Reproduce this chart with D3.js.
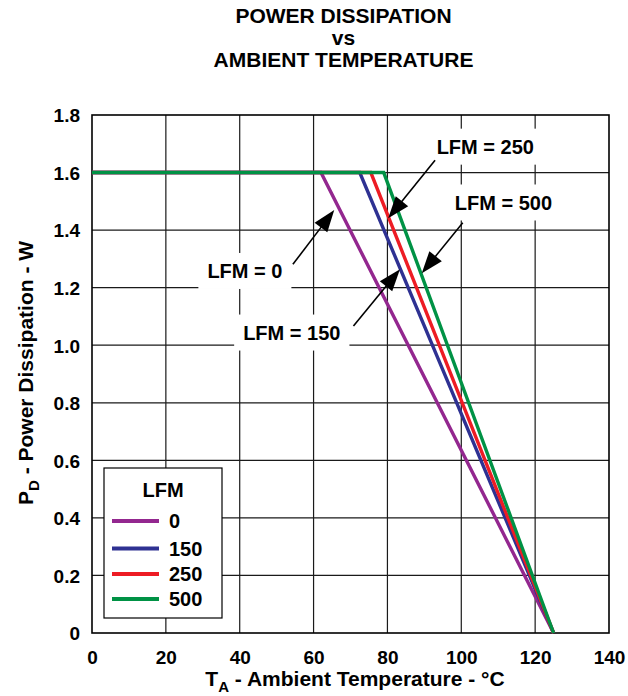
<!DOCTYPE html>
<html>
<head>
<meta charset="utf-8">
<script src="https://cdn.jsdelivr.net/npm/d3@7"></script>
<style>
  html, body { margin: 0; padding: 0; background: #fff; }
  svg { display: block; }
  text { font-family: "Liberation Sans", Arial, Helvetica, sans-serif; font-weight: bold; fill: #000; }
</style>
</head>
<body>
<svg id="chart" width="628" height="696"></svg>
<script>
// ---- data ----
const lfmLabels = ["0", "150", "250", "500"];
const seriesColors = ["#93278F", "#2E3192", "#ED1C24", "#009245"];
const kneeTemp = [62, 72.5, 75.5, 79];      // °C where derating starts
const endTemp = [125, 125, 125, 125];       // °C where PD reaches 0
const maxPower = [1.6, 1.6, 1.6, 1.6];      // W
const xTicks = [0, 20, 40, 60, 80, 100, 120, 140];
const yTicks = [0, 0.2, 0.4, 0.6, 0.8, 1.0, 1.2, 1.4, 1.6, 1.8];
const yTickLabels = ["0", "0.2", "0.4", "0.6", "0.8", "1.0", "1.2", "1.4", "1.6", "1.8"];
const titleLines = ["POWER DISSIPATION", "vs", "AMBIENT TEMPERATURE"];

// callouts: label text, label centre (°C, W), arrow start (°C, W), arrow tip (°C, W)
const calloutText = ["LFM = 0", "LFM = 150", "LFM = 250", "LFM = 500"];
const calloutCenter = [[41.4, 1.258], [54.1, 1.044], [106.5, 1.690], [111.4, 1.496]];
const arrowFrom = [[54.4, 1.281], [70.8, 1.067], [92.9, 1.643], [100.4, 1.426]];
const arrowTo = [[65.6, 1.470], [83.4, 1.264], [80.2, 1.441], [89.3, 1.250]];

// ---- layout ----
const svg = d3.select("#chart");
const L = 92, R = 609, T = 115, B = 633;
const x = d3.scaleLinear().domain([0, 140]).range([L, R]);
const y = d3.scaleLinear().domain([0, 1.8]).range([B, T]);

// title
svg.append("text")
  .attr("x", 343.5).attr("text-anchor", "middle").style("font-size", "21px")
  .selectAll("tspan").data(titleLines).join("tspan")
  .attr("x", 343.5).attr("y", (d, i) => [23, 45, 67][i]).text(d => d);

// grid
const g = svg.append("g");
g.selectAll("line.vg").data(xTicks.slice(1, -1)).join("line")
  .attr("x1", d => x(d)).attr("x2", d => x(d)).attr("y1", T).attr("y2", B)
  .attr("stroke", "#1a1a1a").attr("stroke-width", 1.2);
g.selectAll("line.hg").data(yTicks.slice(1, -1)).join("line")
  .attr("y1", d => y(d)).attr("y2", d => y(d)).attr("x1", L).attr("x2", R)
  .attr("stroke", "#1a1a1a").attr("stroke-width", 1.2);
g.append("rect").attr("x", L).attr("y", T).attr("width", R - L).attr("height", B - T)
  .attr("fill", "none").attr("stroke", "#000").attr("stroke-width", 1.6);

// axes tick labels via d3 axes
const xAxis = svg.append("g").attr("transform", `translate(0,${B})`)
  .call(d3.axisBottom(x).tickValues(xTicks).tickSize(0).tickPadding(0).tickFormat(d3.format("d")));
xAxis.select(".domain").remove();
xAxis.selectAll("text").attr("y", 31).attr("dy", null)
  .style("font-size", "19px").attr("fill", "#000");

const yAxis = svg.append("g").attr("transform", `translate(${L},0)`)
  .call(d3.axisLeft(y).tickValues(yTicks).tickSize(0).tickPadding(0)
    .tickFormat((d, i) => yTickLabels[i]));
yAxis.select(".domain").remove();
yAxis.selectAll("text").attr("x", -12).attr("dy", "0.36em")
  .style("font-size", "19px").attr("fill", "#000");

// axis titles
const xt = svg.append("text").attr("x", 355).attr("y", 686).attr("text-anchor", "middle")
  .style("font-size", "21px");
xt.append("tspan").text("T");
xt.append("tspan").attr("dy", 6).style("font-size", "15px").text("A");
xt.append("tspan").attr("dy", -6).text(" - Ambient Temperature - °C");

const yt = svg.append("text").attr("transform", "translate(33,373) rotate(-90)")
  .attr("text-anchor", "middle").style("font-size", "21px");
yt.append("tspan").text("P");
yt.append("tspan").attr("dy", 6).style("font-size", "15px").text("D");
yt.append("tspan").attr("dy", -6).text(" - Power Dissipation - W");

// curves
const series = lfmLabels.map((lab, i) => ({
  lab, color: seriesColors[i],
  pts: [[0, maxPower[i]], [kneeTemp[i], maxPower[i]], [endTemp[i], 0]]
}));
const line = d3.line().x(d => x(d[0])).y(d => y(d[1]));
svg.append("g").selectAll("path").data(series).join("path")
  .attr("d", d => line(d.pts)).attr("fill", "none")
  .attr("stroke", d => d.color).attr("stroke-width", 3.4)
  .attr("stroke-linejoin", "miter");

// callouts
const cg = svg.append("g");
calloutText.forEach((t, i) => {
  const cx = x(calloutCenter[i][0]), cy = y(calloutCenter[i][1]);
  const grp = cg.append("g");
  const bg = grp.append("rect").attr("fill", "#fff");
  const tx = grp.append("text").attr("x", cx).attr("y", cy).attr("dy", "0.36em")
    .attr("text-anchor", "middle").style("font-size", "20px").text(t);
  const bb = tx.node().getBBox();
  bg.attr("x", bb.x - 9).attr("y", cy - 18).attr("width", bb.width + 18).attr("height", 36);
});

// arrows
arrowFrom.forEach((f, i) => {
  const x1 = x(f[0]), y1 = y(f[1]), x2 = x(arrowTo[i][0]), y2 = y(arrowTo[i][1]);
  const dx = x2 - x1, dy = y2 - y1, len = Math.hypot(dx, dy);
  const ux = dx / len, uy = dy / len;
  const hl = 22, hw = 8;
  const bx = x2 - ux * hl, by = y2 - uy * hl;
  cg.append("line").attr("x1", x1).attr("y1", y1).attr("x2", bx + ux * 2).attr("y2", by + uy * 2)
    .attr("stroke", "#000").attr("stroke-width", 1.6);
  cg.append("polygon")
    .attr("points", [[x2, y2], [bx - uy * hw, by + ux * hw], [bx + uy * hw, by - ux * hw]].map(p => p.join(",")).join(" "))
    .attr("fill", "#000");
});

// legend
const lg = svg.append("g");
lg.append("rect").attr("x", 104).attr("y", 468).attr("width", 118).attr("height", 150)
  .attr("fill", "#fff").attr("stroke", "#000").attr("stroke-width", 1.2);
lg.append("text").attr("x", 163).attr("y", 497).attr("text-anchor", "middle")
  .style("font-size", "20px").text("LFM");
const legY = [521, 548.5, 574, 599];
series.forEach((s, i) => {
  lg.append("line").attr("x1", 112).attr("x2", 159).attr("y1", legY[i]).attr("y2", legY[i])
    .attr("stroke", s.color).attr("stroke-width", 4);
  lg.append("text").attr("x", 169).attr("y", legY[i]).attr("dy", "0.36em")
    .style("font-size", "20px").text(s.lab);
});
</script>
</body>
</html>
